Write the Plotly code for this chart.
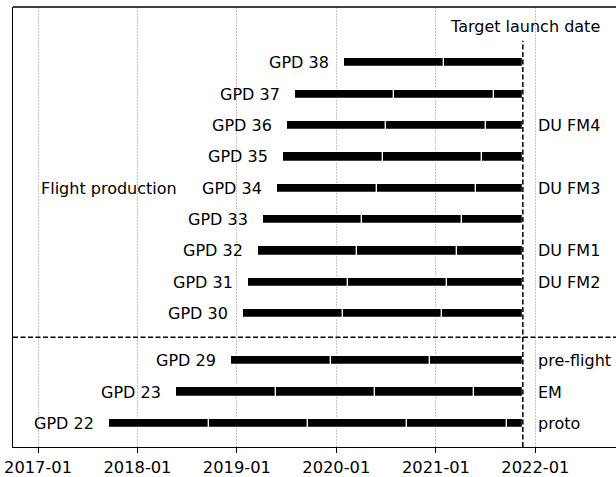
import plotly.graph_objects as go
from datetime import datetime, timedelta

# ---- data ----
detectors = ["GPD 22", "GPD 23", "GPD 29", "GPD 30", "GPD 31", "GPD 32", "GPD 33",
             "GPD 34", "GPD 35", "GPD 36", "GPD 37", "GPD 38"]
start_dates = ["2017-09-19", "2018-05-23", "2018-12-12", "2019-01-25", "2019-02-12",
               "2019-03-19", "2019-04-06", "2019-05-29", "2019-06-20", "2019-07-03",
               "2019-08-02", "2020-01-31"]
row_pos = [0, 1, 2, 3.5, 4.5, 5.5, 6.5, 7.5, 8.5, 9.5, 10.5, 11.5]
right_labels = ["proto", "EM", "pre-flight", "", "DU FM2", "DU FM1", "",
                "DU FM3", "", "DU FM4", "", ""]
target_date = "2021-11-16"
tick_values = ["2017-01-01", "2018-01-01", "2019-01-01", "2020-01-01",
               "2021-01-01", "2022-01-01"]
tick_labels = ["2017-01", "2018-01", "2019-01", "2020-01", "2021-01", "2022-01"]

# ---- build yearly segments ----
tgt = datetime.fromisoformat(target_date)
seg_base, seg_len, seg_y = [], [], []
for s, y in zip(start_dates, row_pos):
    d = datetime.fromisoformat(s)
    while d < tgt:
        e = min(d + timedelta(days=365), tgt)
        seg_base.append(d.strftime("%Y-%m-%d"))
        seg_len.append((e - d).total_seconds() * 1000)
        seg_y.append(y)
        d = e

FONT = "DejaVu Sans"
fig = go.Figure()
fig.add_trace(go.Bar(
    orientation="h", base=seg_base, x=seg_len, y=seg_y, width=0.295,
    marker=dict(color="black", line=dict(color="white", width=1.2)),
    hoverinfo="skip", showlegend=False))

ann = []
for name, s, y in zip(detectors, start_dates, row_pos):
    ann.append(dict(x=s, y=y, text=name, xanchor="right", yanchor="middle",
                    showarrow=False, xshift=-13, font=dict(size=16, color="black", family=FONT)))
for lab, y in zip(right_labels, row_pos):
    if lab:
        ann.append(dict(x=target_date, y=y, text=lab, xanchor="left", yanchor="middle",
                        showarrow=False, xshift=13, font=dict(size=16, color="black", family=FONT)))
ann.append(dict(x=target_date, y=12.67, text="Target launch date", xanchor="center",
                yanchor="middle", showarrow=False, xshift=2,
                font=dict(size=16, color="black", family=FONT)))
ann.append(dict(x="2017-01-01", y=7.5, text="Flight production", xanchor="left",
                yanchor="middle", showarrow=False, xshift=1,
                font=dict(size=16, color="black", family=FONT)))

shapes = [
    dict(type="line", xref="paper", yref="y", x0=0, x1=1, y0=2.75, y1=2.75,
         line=dict(color="black", width=1.5, dash="5px,2.5px")),
    dict(type="line", xref="x", yref="y", x0=target_date, x1=target_date, y0=-0.75, y1=12.2,
         line=dict(color="black", width=1.5, dash="5px,2.5px")),
    dict(type="line", xref="paper", yref="paper", x0=0, x1=1, y0=1, y1=1,
         line=dict(color="black", width=1.3)),
]

fig.update_layout(
    width=616, height=477,
    margin=dict(l=13, r=0, t=7, b=27),
    plot_bgcolor="white", paper_bgcolor="white",
    font=dict(family=FONT, size=16, color="black"),
    annotations=ann, shapes=shapes, bargap=0,
    xaxis=dict(type="date", range=["2016-10-01", "2022-10-24"],
               tickvals=tick_values, ticktext=tick_labels,
               showgrid=True, gridcolor="#c4c4c4", gridwidth=0.8, griddash="1.5px,1.5px",
               showline=True, linecolor="black", linewidth=1.3, mirror=False,
               ticks="outside", ticklen=5, tickwidth=1, tickcolor="black",
               tickfont=dict(size=16.3, family=FONT, color="black"), zeroline=False),
    yaxis=dict(range=[-0.75, 13.28], showticklabels=False, ticks="",
               showgrid=False, zeroline=False,
               showline=True, linecolor="black", linewidth=1.3, mirror=False),
)

fig.write_html("out.html", config={"displayModeBar": False},
               post_script="document.body.style.margin='0';document.body.style.overflow='hidden';")
